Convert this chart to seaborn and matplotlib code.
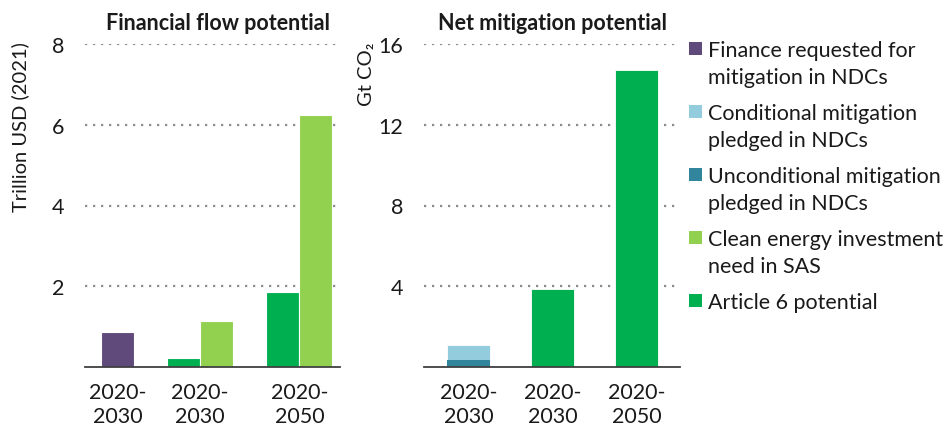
import numpy as np
import pandas as pd
import matplotlib
matplotlib.use("Agg")
import matplotlib.pyplot as plt
from matplotlib.patches import Rectangle
import seaborn as sns

# ---------------- data ----------------
fin_periods = ["2020-\n2030", "2020-\n2030", "2020-\n2050"]
fin_finance_requested = [0.87, np.nan, np.nan]
fin_article6 = [np.nan, 0.23, 1.86]
fin_clean_energy = [np.nan, 1.13, 6.25]
fin_yticks = [2, 4, 6, 8]

mit_periods = ["2020-\n2030", "2020-\n2030", "2020-\n2050"]
mit_unconditional = [0.35, np.nan, np.nan]
mit_conditional = [0.72, np.nan, np.nan]
mit_article6 = [np.nan, 3.85, 14.72]
mit_yticks = [4, 8, 12, 16]

series_names = ["Finance requested for\nmitigation in NDCs",
                "Conditional mitigation\npledged in NDCs",
                "Unconditional mitigation\npledged in NDCs",
                "Clean energy investment\nneed in SAS",
                "Article 6 potential"]
series_colors = ["#604A7B", "#93CDDD", "#31859C", "#92D050", "#00B050"]

titles = ["Financial flow potential", "Net mitigation potential"]
ylabels = ["Trillion USD (2021)", "Gt CO\u2082"]

# ---------------- style ----------------
sns.set_style("white")
FONT = ["Lato", "DejaVu Sans"]
plt.rcParams["font.family"] = FONT
TXT = "#1a1a1a"
FS = 15.5

W, H = 943, 427
fig = plt.figure(figsize=(W / 100, H / 100), dpi=100)

def fx(px):
    return px / W

def fy(py):
    return 1 - py / H

base_y, top_y = 368, 45
ax1 = fig.add_axes([fx(85), fy(base_y), fx(340) - fx(85), fy(top_y) - fy(base_y)])
ax2 = fig.add_axes([fx(424), fy(base_y), fx(680) - fx(424), fy(top_y) - fy(base_y)])

pal = dict(zip(series_names, series_colors))

# ---------- left panel: financial flows (slots with a gap between groups) ----------
rows = []
group_centers = []
slot = 0
fin_series = [(series_names[0], fin_finance_requested),
              (series_names[4], fin_article6),
              (series_names[3], fin_clean_energy)]
for g in range(len(fin_periods)):
    slots = []
    for name, vals in fin_series:
        if not np.isnan(vals[g]):
            rows.append({"pos": float(slot), "value": vals[g], "series": name})
            slots.append(slot)
            slot += 1
    group_centers.append(np.mean(slots))
    slot += 1
df_fin = pd.DataFrame(rows)
sns.barplot(data=df_fin, x="pos", y="value", hue="series", palette=pal,
            native_scale=True, width=1.0, dodge=False, errorbar=None, saturation=1,
            edgecolor="white", linewidth=0.8, legend=False, ax=ax1, zorder=3)
ax1.set_xlim(-0.98, 6.73)
ax1.set_ylim(0, 8)
ax1.set_xticks(group_centers)
ax1.set_xticklabels(fin_periods)
ax1.set_yticks(fin_yticks)

# ---------- right panel: mitigation ----------
rows = []
for g in range(len(mit_periods)):
    if not np.isnan(mit_conditional[g]):
        rows.append({"pos": float(g), "value": mit_unconditional[g] + mit_conditional[g],
                     "series": series_names[1]})
    if not np.isnan(mit_article6[g]):
        rows.append({"pos": float(g), "value": mit_article6[g], "series": series_names[4]})
df_mit = pd.DataFrame(rows)
sns.barplot(data=df_mit, x="pos", y="value", hue="series", palette=pal,
            native_scale=True, width=0.505, dodge=False, errorbar=None, saturation=1,
            edgecolor="white", linewidth=0.6, legend=False, ax=ax2, zorder=3)
rows = [{"pos": float(g), "value": mit_unconditional[g], "series": series_names[2]}
        for g in range(len(mit_periods)) if not np.isnan(mit_unconditional[g])]
df_unc = pd.DataFrame(rows)
sns.barplot(data=df_unc, x="pos", y="value", hue="series", palette=pal,
            native_scale=True, width=0.505, dodge=False, errorbar=None, saturation=1,
            edgecolor="none", linewidth=0, legend=False, ax=ax2, zorder=4)
ax2.set_xlim(-0.53, 2.515)
ax2.set_ylim(0, 16)
ax2.set_xticks(range(len(mit_periods)))
ax2.set_xticklabels(mit_periods)
ax2.set_yticks(mit_yticks)

for ax in (ax1, ax2):
    ax.set_xlabel("")
    ax.set_ylabel("")
    for s in ("left", "right", "top"):
        ax.spines[s].set_visible(False)
    ax.spines["bottom"].set_color("#404040")
    ax.spines["bottom"].set_linewidth(1.3)
    ax.spines["bottom"].set_zorder(5)
    ax.set_axisbelow(True)
    ax.yaxis.grid(True, linestyle=(0, (1, 2.6)), color="#8c8c8c", linewidth=1.6)
    ax.xaxis.grid(False)
    ax.tick_params(axis="x", length=0, pad=11, labelsize=FS, labelcolor=TXT)
    ax.tick_params(axis="y", length=0, pad=15, labelsize=FS, labelcolor=TXT)
    for lab in ax.get_xticklabels():
        lab.set_linespacing(1.25)
    ax.patch.set_alpha(0)

# titles
fig.text(fx(218), fy(23), titles[0], ha="center", va="center",
         fontsize=FS, fontweight="bold", color=TXT)
fig.text(fx(552), fy(23), titles[1], ha="center", va="center",
         fontsize=FS, fontweight="bold", color=TXT)

# y labels
fig.text(fx(20), fy(42), ylabels[0], rotation=90, ha="center", va="top",
         fontsize=14.5, color=TXT)
fig.text(fx(367), fy(42), ylabels[1], rotation=90, ha="center", va="top",
         fontsize=14.5, color=TXT)

# legend
for i, (name, col) in enumerate(zip(series_names, series_colors)):
    yc = 49.3 + 63.1 * i
    fig.patches.append(Rectangle((fx(689), fy(yc + 6.5)), fx(13), 13 / H,
                                 transform=fig.transFigure, facecolor=col,
                                 edgecolor="none"))
    for j, line in enumerate(name.split("\n")):
        fig.text(fx(708), fy(yc + 7.5 + 27 * j), line, ha="left", va="baseline",
                 fontsize=FS, color=TXT)

fig.savefig("out.png", dpi=100)
